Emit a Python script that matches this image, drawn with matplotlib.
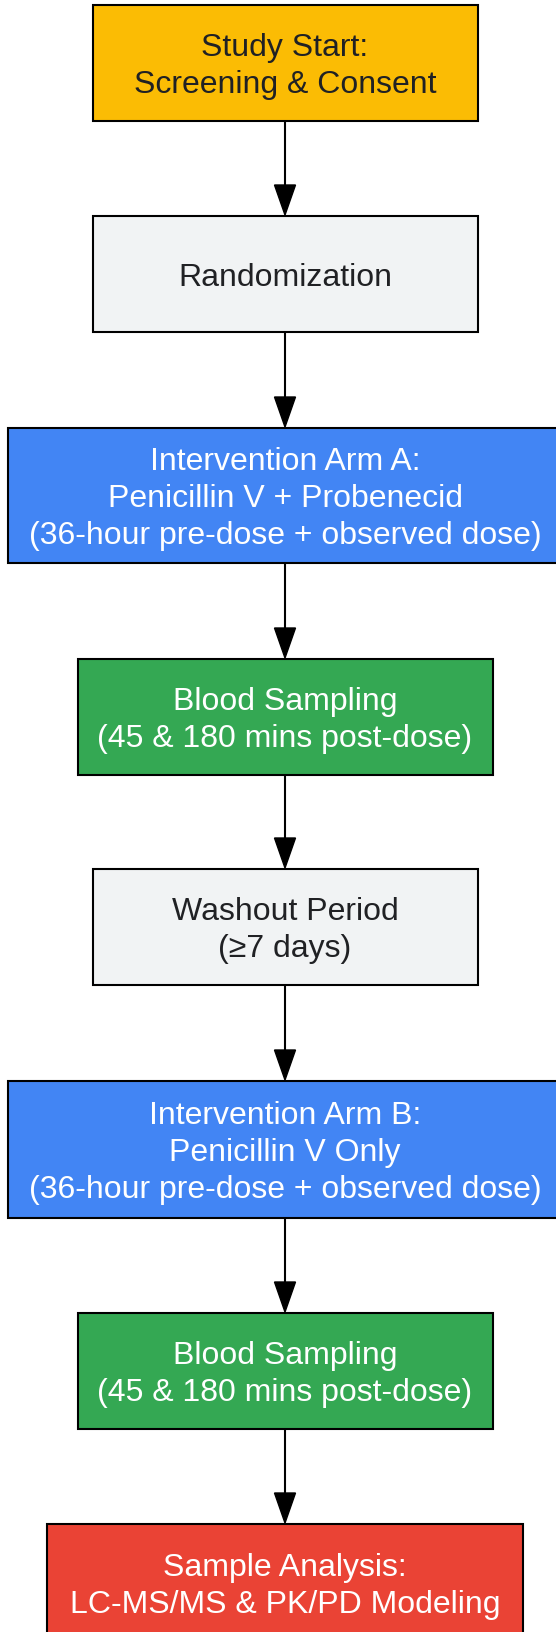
import matplotlib.pyplot as plt
from matplotlib.patches import Rectangle, Polygon

# flowchart content
labels = [
    'Study Start:\nScreening & Consent',
    'Randomization',
    'Intervention Arm A:\nPenicillin V + Probenecid\n(36-hour pre-dose + observed dose)',
    'Blood Sampling\n(45 & 180 mins post-dose)',
    'Washout Period\n(\u22657 days)',
    'Intervention Arm B:\nPenicillin V Only\n(36-hour pre-dose + observed dose)',
    'Blood Sampling\n(45 & 180 mins post-dose)',
    'Sample Analysis:\nLC-MS/MS & PK/PD Modeling',
]
fill_colors = ['#FBBC04', '#F1F3F4', '#4285F4', '#34A853',
               '#F1F3F4', '#4285F4', '#34A853', '#EA4335']
text_colors = ['#202124', '#202124', 'white', 'white',
               '#202124', 'white', 'white', 'white']

# layout in pixels (top, bottom, width), centred on one column
box_tops = [6, 217, 429, 660, 870, 1082, 1314, 1525]
box_bottoms = [122, 333, 564, 776, 986, 1219, 1430, 1643]
box_widths = [385, 385, 554, 415, 385, 554, 415, 476]
center_x = 285

W, H = 556, 1633
fig = plt.figure(figsize=(W / 100, H / 100), dpi=100)
ax = fig.add_axes([0, 0, 1, 1])
ax.set_xlim(0, W)
ax.set_ylim(H, 0)
ax.axis('off')

for i, lab in enumerate(labels):
    top, bot, w = box_tops[i], box_bottoms[i], box_widths[i]
    ax.add_patch(Rectangle((center_x - w / 2, top), w, bot - top,
                           facecolor=fill_colors[i], edgecolor='black',
                           linewidth=1.5, zorder=2))
    ax.text(center_x, (top + bot) / 2 + 2.5, lab, ha='center', va='center',
            multialignment='center', fontsize=23, color=text_colors[i],
            family=['Liberation Sans', 'DejaVu Sans'], linespacing=1.29,
            zorder=3)

# arrows between consecutive boxes
head_len, head_w = 31, 21
for i in range(len(labels) - 1):
    y0 = box_bottoms[i]
    y1 = box_tops[i + 1]
    ax.plot([center_x, center_x], [y0, y1 - head_len + 2], color='black',
            linewidth=1.5, zorder=1)
    ax.add_patch(Polygon([(center_x - head_w / 2, y1 - head_len),
                          (center_x + head_w / 2, y1 - head_len),
                          (center_x, y1 - 1)],
                         closed=True, facecolor='black', edgecolor='black',
                         linewidth=1, zorder=1))

fig.savefig('out.png', dpi=100)
